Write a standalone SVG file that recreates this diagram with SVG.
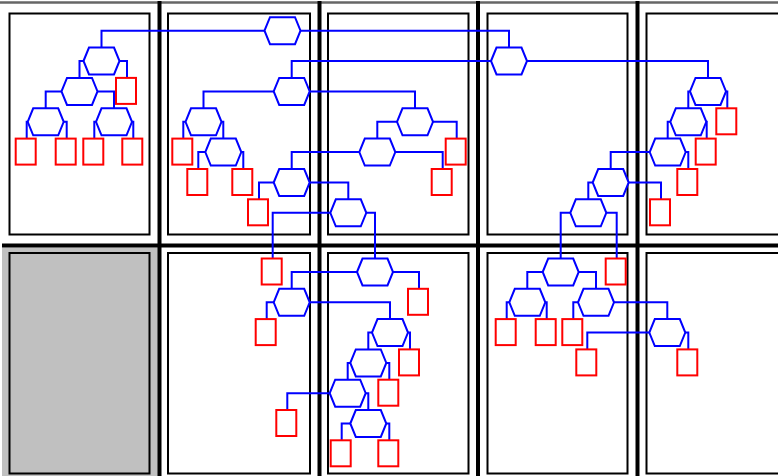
<svg xmlns="http://www.w3.org/2000/svg" width="778" height="476" viewBox="0 0 778 476">
<style>
.hex{fill:#fff;stroke:#0000ff;stroke-width:2}
.leaf{fill:#fff;stroke:#ff0000;stroke-width:2}
.edge{fill:none;stroke:#0000ff;stroke-width:2}
.cell{fill:#fff;stroke:#000;stroke-width:2}
.div{stroke:#000;stroke-width:4}
</style>
<defs>
<polygon id="hx" class="hex" points="-18,0 -12.5,-13.5 12.5,-13.5 18,0 12.5,13.5 -12.5,13.5"/>
<rect id="lf" class="leaf" x="-11" y="-13.5" width="20" height="26"/>
</defs>
<rect width="778" height="476" fill="#fff"/>
<g id="frame">
<rect x="2" y="247.5" width="156" height="228.5" fill="#c0c0c0"/>
<line x1="0" y1="2.5" x2="778" y2="2.5" stroke="#666" stroke-width="2.5"/>
<rect class="cell" x="9.5" y="13.5" width="140" height="221"/>
<rect class="cell" x="168" y="13.5" width="142" height="221"/>
<rect class="cell" x="328" y="13.5" width="140.5" height="221"/>
<rect class="cell" x="487.5" y="13.5" width="140" height="221"/>
<rect class="cell" x="646.5" y="13.5" width="145" height="221"/>
<rect class="cell" x="9.5" y="253" width="140" height="220.5" style="fill:#c0c0c0"/>
<rect class="cell" x="168" y="253" width="142" height="220.5"/>
<rect class="cell" x="328" y="253" width="140.5" height="220.5"/>
<rect class="cell" x="487.5" y="253" width="140" height="220.5"/>
<rect class="cell" x="646.5" y="253" width="145" height="220.5"/>
<line class="div" x1="2" y1="245.5" x2="778" y2="245.5"/>
<line class="div" x1="159.5" y1="1" x2="159.5" y2="476"/>
<line class="div" x1="319.5" y1="1" x2="319.5" y2="476"/>
<line class="div" x1="478" y1="1" x2="478" y2="476"/>
<line class="div" x1="637.5" y1="1" x2="637.5" y2="476"/>
</g>
<g id="connectors">
<path class="edge" d="M264.5,30.7H101.5V47.5"/>
<path class="edge" d="M300.5,30.7H509V47.5"/>
<path class="edge" d="M83.5,61H79.5V77.9"/>
<path class="edge" d="M119.5,61H127V77.9"/>
<path class="edge" d="M61.5,91.4H45.7V108.3"/>
<path class="edge" d="M97.5,91.4H114V108.3"/>
<path class="edge" d="M27.7,121.8H26.7V138.6"/>
<path class="edge" d="M63.7,121.8H66.7V138.6"/>
<path class="edge" d="M96,121.8H94.3V138.6"/>
<path class="edge" d="M132,121.8H133.3V138.6"/>
<path class="edge" d="M491,61H291.7V77.9"/>
<path class="edge" d="M527,61H708V77.9"/>
<path class="edge" d="M273.7,91.4H203.5V108.3"/>
<path class="edge" d="M309.7,91.4H415V108.3"/>
<path class="edge" d="M185.5,121.8H183.3V138.6"/>
<path class="edge" d="M221.5,121.8H223.3V138.6"/>
<path class="edge" d="M205.3,152.1H198.3V169"/>
<path class="edge" d="M241.3,152.1H243.3V169"/>
<path class="edge" d="M397,121.8H377.3V138.6"/>
<path class="edge" d="M433,121.8H456.7V138.6"/>
<path class="edge" d="M359.3,152.1H291.7V169"/>
<path class="edge" d="M395.3,152.1H442.7V169"/>
<path class="edge" d="M273.7,182.5H259V199.3"/>
<path class="edge" d="M309.7,182.5H348.3V199.3"/>
<path class="edge" d="M330.3,212.8H272.7V258.5"/>
<path class="edge" d="M366.3,212.8H375V258.5"/>
<path class="edge" d="M357,272H291.7V288.8"/>
<path class="edge" d="M393,272H419V288.8"/>
<path class="edge" d="M273.7,302.3H266.7V319.1"/>
<path class="edge" d="M309.7,302.3H390V319.1"/>
<path class="edge" d="M372,332.6H368.3V349.4"/>
<path class="edge" d="M408,332.6H410V349.4"/>
<path class="edge" d="M350.3,362.9H347.7V379.7"/>
<path class="edge" d="M386.3,362.9H389.3V379.7"/>
<path class="edge" d="M329.7,393.2H287.3V410"/>
<path class="edge" d="M365.7,393.2H368.3V410"/>
<path class="edge" d="M350.3,423.5H341.7V440.3"/>
<path class="edge" d="M386.3,423.5H389.3V440.3"/>
<path class="edge" d="M690,91.4H688.3V108.3"/>
<path class="edge" d="M726,91.4H727.3V108.3"/>
<path class="edge" d="M670.3,121.8H667.7V138.6"/>
<path class="edge" d="M706.3,121.8H706.7V138.6"/>
<path class="edge" d="M649.7,152.1H610.7V169"/>
<path class="edge" d="M685.7,152.1H688.3V169"/>
<path class="edge" d="M592.7,182.5H588.3V199.3"/>
<path class="edge" d="M628.7,182.5H661V199.3"/>
<path class="edge" d="M570.3,212.8H560.7V258.5"/>
<path class="edge" d="M606.3,212.8H616.7V258.5"/>
<path class="edge" d="M542.7,272H527.3V288.8"/>
<path class="edge" d="M578.7,272H596V288.8"/>
<path class="edge" d="M509.3,302.3H506.7V319.1"/>
<path class="edge" d="M545.3,302.3H546.7V319.1"/>
<path class="edge" d="M578,302.3H573.3V319.1"/>
<path class="edge" d="M614,302.3H667.3V319.1"/>
<path class="edge" d="M649.3,332.6H587.3V349.4"/>
<path class="edge" d="M685.3,332.6H688.3V349.4"/>
</g>
<g id="nodes">
<g id="n-root" transform="translate(282.5,30.7)"><use href="#hx"/></g>
<g id="n-a" transform="translate(101.5,61)"><use href="#hx"/></g>
<g id="n-a1" transform="translate(79.5,91.4)"><use href="#hx"/></g>
<g id="n-b1" transform="translate(45.7,121.8)"><use href="#hx"/></g>
<g id="n-b2" transform="translate(114,121.8)"><use href="#hx"/></g>
<g id="n-c" transform="translate(509,61)"><use href="#hx"/></g>
<g id="n-d" transform="translate(291.7,91.4)"><use href="#hx"/></g>
<g id="n-e" transform="translate(708,91.4)"><use href="#hx"/></g>
<g id="n-f" transform="translate(203.5,121.8)"><use href="#hx"/></g>
<g id="n-j" transform="translate(415,121.8)"><use href="#hx"/></g>
<g id="n-g" transform="translate(223.3,152.1)"><use href="#hx"/></g>
<g id="n-k" transform="translate(377.3,152.1)"><use href="#hx"/></g>
<g id="n-h" transform="translate(291.7,182.5)"><use href="#hx"/></g>
<g id="n-i" transform="translate(348.3,212.8)"><use href="#hx"/></g>
<g id="n-m" transform="translate(375,272)"><use href="#hx"/></g>
<g id="n-n" transform="translate(291.7,302.3)"><use href="#hx"/></g>
<g id="n-o" transform="translate(390,332.6)"><use href="#hx"/></g>
<g id="n-p" transform="translate(368.3,362.9)"><use href="#hx"/></g>
<g id="n-q" transform="translate(347.7,393.2)"><use href="#hx"/></g>
<g id="n-r2" transform="translate(368.3,423.5)"><use href="#hx"/></g>
<g id="n-e1" transform="translate(688.3,121.8)"><use href="#hx"/></g>
<g id="n-e2" transform="translate(667.7,152.1)"><use href="#hx"/></g>
<g id="n-e3" transform="translate(610.7,182.5)"><use href="#hx"/></g>
<g id="n-e4" transform="translate(588.3,212.8)"><use href="#hx"/></g>
<g id="n-s" transform="translate(560.7,272)"><use href="#hx"/></g>
<g id="n-t" transform="translate(527.3,302.3)"><use href="#hx"/></g>
<g id="n-u" transform="translate(596,302.3)"><use href="#hx"/></g>
<g id="n-v" transform="translate(667.3,332.6)"><use href="#hx"/></g>
<g id="l-01" transform="translate(127,91.4)"><use href="#lf"/></g>
<g id="l-02" transform="translate(26.7,152.1)"><use href="#lf"/></g>
<g id="l-03" transform="translate(66.7,152.1)"><use href="#lf"/></g>
<g id="l-04" transform="translate(94.3,152.1)"><use href="#lf"/></g>
<g id="l-05" transform="translate(133.3,152.1)"><use href="#lf"/></g>
<g id="l-06" transform="translate(183.3,152.1)"><use href="#lf"/></g>
<g id="l-07" transform="translate(198.3,182.5)"><use href="#lf"/></g>
<g id="l-08" transform="translate(243.3,182.5)"><use href="#lf"/></g>
<g id="l-09" transform="translate(456.7,152.1)"><use href="#lf"/></g>
<g id="l-10" transform="translate(442.7,182.5)"><use href="#lf"/></g>
<g id="l-11" transform="translate(259,212.8)"><use href="#lf"/></g>
<g id="l-12" transform="translate(272.7,272)"><use href="#lf"/></g>
<g id="l-13" transform="translate(419,302.3)"><use href="#lf"/></g>
<g id="l-14" transform="translate(266.7,332.6)"><use href="#lf"/></g>
<g id="l-15" transform="translate(410,362.9)"><use href="#lf"/></g>
<g id="l-16" transform="translate(389.3,393.2)"><use href="#lf"/></g>
<g id="l-17" transform="translate(287.3,423.5)"><use href="#lf"/></g>
<g id="l-18" transform="translate(341.7,453.8)"><use href="#lf"/></g>
<g id="l-19" transform="translate(389.3,453.8)"><use href="#lf"/></g>
<g id="l-20" transform="translate(727.3,121.8)"><use href="#lf"/></g>
<g id="l-21" transform="translate(706.7,152.1)"><use href="#lf"/></g>
<g id="l-22" transform="translate(688.3,182.5)"><use href="#lf"/></g>
<g id="l-23" transform="translate(661,212.8)"><use href="#lf"/></g>
<g id="l-24" transform="translate(616.7,272)"><use href="#lf"/></g>
<g id="l-25" transform="translate(506.7,332.6)"><use href="#lf"/></g>
<g id="l-26" transform="translate(546.7,332.6)"><use href="#lf"/></g>
<g id="l-27" transform="translate(573.3,332.6)"><use href="#lf"/></g>
<g id="l-28" transform="translate(587.3,362.9)"><use href="#lf"/></g>
<g id="l-29" transform="translate(688.3,362.9)"><use href="#lf"/></g>
</g>
</svg>
